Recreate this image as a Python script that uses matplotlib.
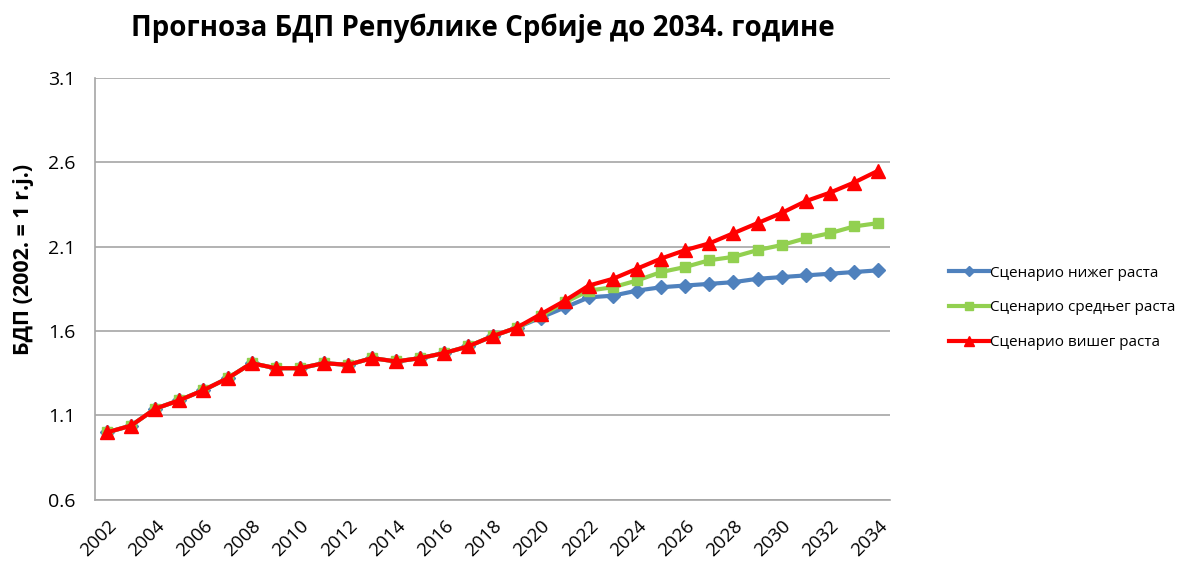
import matplotlib
matplotlib.use('Agg')
import matplotlib.pyplot as plt
import numpy as np

plt.rcParams['font.family'] = ['Open Sans', 'DejaVu Sans']

years = list(range(2002, 2035))

# historical part is shared by all three scenarios (2002-2019)
history = [1.00, 1.04, 1.14, 1.19, 1.25, 1.32, 1.41, 1.38, 1.38, 1.41,
           1.40, 1.44, 1.42, 1.44, 1.47, 1.51, 1.57, 1.62]

# 2020-2034 projections
low_proj = [1.68, 1.74, 1.80, 1.81, 1.84, 1.86, 1.87, 1.88, 1.89, 1.91,
            1.92, 1.93, 1.94, 1.95, 1.96]
mid_proj = [1.69, 1.77, 1.84, 1.86, 1.90, 1.95, 1.98, 2.02, 2.04, 2.08,
            2.11, 2.15, 2.18, 2.22, 2.24]
high_proj = [1.70, 1.78, 1.87, 1.91, 1.97, 2.03, 2.08, 2.12, 2.18, 2.24,
             2.30, 2.37, 2.42, 2.48, 2.55]

low = history + low_proj
mid = history + mid_proj
high = history + high_proj

labels = ['Сценарио нижег раста', 'Сценарио средњег раста', 'Сценарио вишег раста']
y_ticks = [0.6, 1.1, 1.6, 2.1, 2.6, 3.1]

fig = plt.figure(figsize=(11.92, 5.61), dpi=100)
ax = fig.add_axes([0.0797, 0.109, 0.667, 0.752])

ax.plot(years, low, color='#4f81bd', marker='D', markersize=7.5, linewidth=3, label=labels[0])
ax.plot(years, mid, color='#92d050', marker='s', markersize=7.5, linewidth=3, label=labels[1])
ax.plot(years, high, color='#ff0000', marker='^', markersize=10, linewidth=3, label=labels[2])

ax.set_xlim(2001.5, 2034.5)
ax.set_ylim(0.6, 3.1)
ax.set_yticks(y_ticks)
ax.set_yticklabels(['%.1f' % v for v in y_ticks], fontsize=14)
ax.set_xticks(years[::2])
ax.set_xticklabels([str(y) for y in years[::2]], rotation=45, ha='right',
                   rotation_mode='anchor', fontsize=13.5)
ax.tick_params(axis='x', length=0, pad=12)
ax.tick_params(axis='y', length=0, pad=14)

ax.grid(axis='y', color='#a6a6a6', linewidth=1.2)
ax.set_axisbelow(True)
for side in ['top', 'right']:
    ax.spines[side].set_visible(False)
for side in ['left', 'bottom']:
    ax.spines[side].set_color('#a6a6a6')
    ax.spines[side].set_linewidth(1.2)

ax.set_ylabel('БДП (2002. = 1 r.j.)', fontsize=15.5, fontweight='bold')
ax.yaxis.set_label_coords(-0.077, 0.57)
fig.suptitle('Прогноза БДП Републике Србије до 2034. године', fontsize=20,
             fontweight='bold', x=0.405, y=0.975)

ax.legend(loc='center left', bbox_to_anchor=(1.057, 0.455), frameon=False,
          fontsize=11, handlelength=2.6, handletextpad=0.1, labelspacing=1.3,
          markerscale=0.7)

fig.savefig('out.png', dpi=100)
